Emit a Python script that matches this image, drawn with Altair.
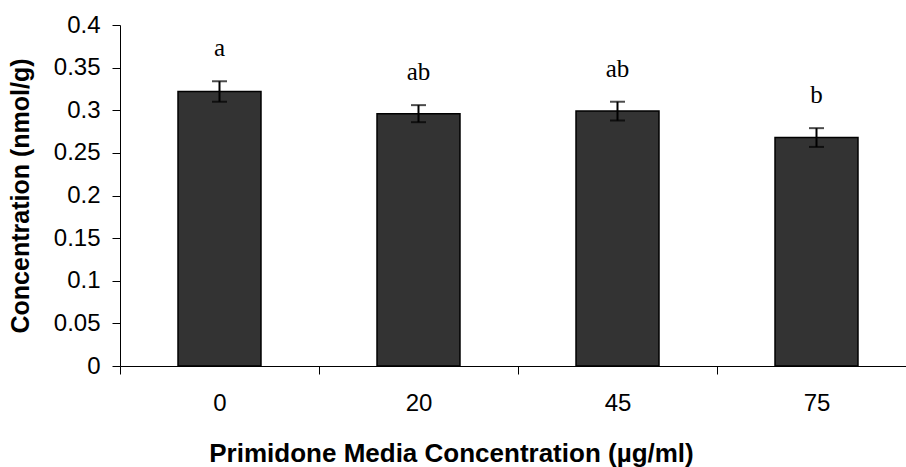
import altair as alt
import pandas as pd

# Primidone concentration in the media (µg/ml) and measured tissue concentration
doses = ["0", "20", "45", "75"]
means = [0.322, 0.296, 0.299, 0.268]
errors = [0.012, 0.010, 0.011, 0.011]
letters = ["a", "ab", "ab", "b"]

df = pd.DataFrame({
    "dose": doses,
    "mean": means,
    "err": errors,
    "letter": letters,
})
df["lo"] = df["mean"] - df["err"]
df["hi"] = df["mean"] + df["err"]

# each category fills a full step, so the ticks land between groups
x_scale = alt.Scale(domain=doses, range=[0, 796], paddingInner=0, paddingOuter=0)
y_scale = alt.Scale(domain=[0, 0.4], nice=False, zero=True)

x_axis = alt.Axis(
    title="Primidone Media Concentration (µg/ml)",
    titleFont="Liberation Sans", titleFontSize=26, titleFontWeight="bold",
    titleColor="black", titleX=331, titleY=95, titleAlign="center",
    titleBaseline="alphabetic",
    labelFont="Liberation Sans", labelFontSize=24, labelColor="black",
    labelAngle=0, labelPadding=17,
    tickBand="extent", tickSize=8, tickColor="black", tickWidth=1,
    domainColor="black", domainWidth=1, grid=False,
)
y_axis = alt.Axis(
    title="Concentration (nmol/g)",
    titleFont="Liberation Sans", titleFontSize=25, titleFontWeight="bold",
    titleColor="black", titleX=-100, titleY=170.5, titleAlign="center",
    titleBaseline="middle", titleAngle=270,
    labelFont="Liberation Sans", labelFontSize=24, labelColor="black",
    labelPadding=12, format=".2~f",
    values=[0, 0.05, 0.1, 0.15, 0.2, 0.25, 0.3, 0.35, 0.4],
    tickSize=8, tickColor="black", tickWidth=1,
    domainColor="black", domainWidth=1, grid=False,
)

base = alt.Chart(df)

bars = base.mark_bar(
    fill="#333333", stroke="black", strokeWidth=1.5,
    width=alt.RelativeBandSize(0.417),
).encode(
    x=alt.X("dose:N", scale=x_scale, axis=x_axis, sort=doses),
    y=alt.Y("mean:Q", scale=y_scale, axis=y_axis),
)

stems = base.mark_rule(color="black", strokeWidth=2).encode(
    x=alt.X("dose:N", scale=x_scale, sort=doses),
    y="lo:Q",
    y2="hi:Q",
)

caps_hi = base.mark_tick(color="black", thickness=2, size=15, orient="horizontal").encode(
    x=alt.X("dose:N", scale=x_scale, sort=doses),
    y="hi:Q",
)
caps_lo = base.mark_tick(color="black", thickness=2, size=15, orient="horizontal").encode(
    x=alt.X("dose:N", scale=x_scale, sort=doses),
    y="lo:Q",
)

labels = base.mark_text(
    font="Liberation Serif", fontSize=25, color="black",
    baseline="alphabetic", align="center", dy=-25,
).encode(
    x=alt.X("dose:N", scale=x_scale, sort=doses),
    y="hi:Q",
    text="letter:N",
)

chart = (
    alt.layer(bars, stems, caps_hi, caps_lo, labels)
    .properties(
        width=786, height=341,
        padding={"left": 120, "top": 25, "right": 0, "bottom": 101},
        autosize=alt.AutoSizeParams(type="none"),
        background="white",
    )
    .configure_view(stroke=None)
)

chart.save("out.html", embed_options={"renderer": "svg", "actions": False})
